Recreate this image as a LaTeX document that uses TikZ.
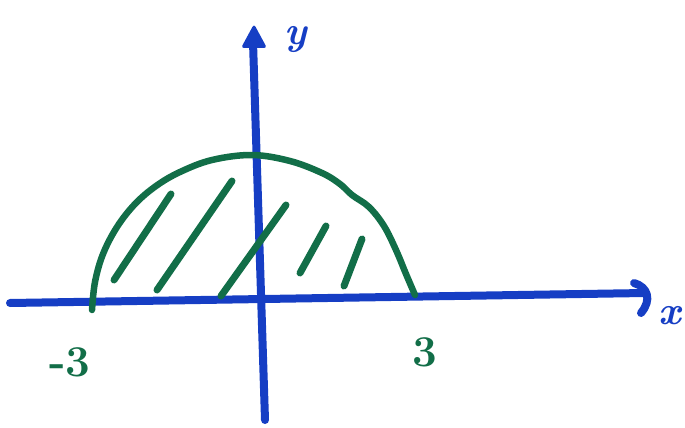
\documentclass[tikz,border=0pt]{standalone}
\usetikzlibrary{arrows.meta}
\definecolor{penblue}{RGB}{22,62,196}
\definecolor{pengreen}{RGB}{18,110,72}
\tikzset{
  axisline/.style={draw=penblue, line width=8pt, line cap=round, line join=round},
  curveline/.style={draw=pengreen, line width=6.5pt, line cap=round, line join=round},
  hatchline/.style={draw=pengreen, line width=7pt, line cap=round},
  bluelabel/.style={text=penblue, font=\fontsize{40}{40}\selectfont\bfseries\itshape, inner sep=0pt},
  greenlabel/.style={text=pengreen, font=\fontsize{44}{44}\selectfont\bfseries, inner sep=0pt}
}
\begin{document}
\begin{tikzpicture}[x=1pt,y=-1pt]
\useasboundingbox (0,0) rectangle (685,428);
% axis end points
\coordinate (xl) at (10,303);
\coordinate (xr) at (645,293);
\coordinate (yb) at (265,420);
\coordinate (yt) at (253,42);
% x axis
\draw[axisline] (xl) -- (xr);
\draw[axisline] (634,283) .. controls (648,287) and (652,300) .. (641,313);
% y axis
\draw[axisline] (yb) -- (yt);
\fill[penblue, rounded corners=3pt] (241,48) -- (254,24) -- (267,48) -- cycle;
% semicircle
\draw[curveline] plot[smooth, tension=0.6] coordinates {
  (92,310) (95,282) (103,254) (117,227) (135,204) (156,186) (180,172)
  (212,160) (252,155) (290,161) (322,173) (340,184) (352,195) (369,207)
  (384,226) (396,250) (406,274) (415,295)};
% hatching
\draw[hatchline] (114,280) -- (171,194);
\draw[hatchline] (157,290) -- (232,181);
\draw[hatchline] (221,296) -- (286,205);
\draw[hatchline] (300,273) -- (326,226);
\draw[hatchline] (344,286) -- (362,239);
% labels
\node[bluelabel] (ylab) at (296,40) {y};
\node[bluelabel] (xlab) at (670,316) {x};
\node[greenlabel] (m3) at (70,362) {-3};
\node[greenlabel] (p3) at (425,352) {3};
\end{tikzpicture}
\end{document}
